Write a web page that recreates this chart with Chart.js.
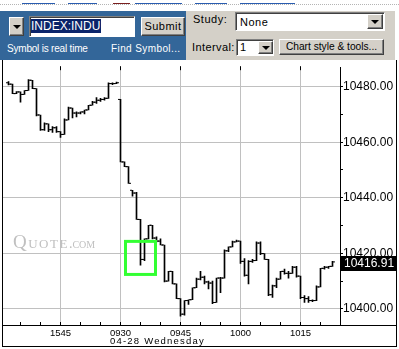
<!DOCTYPE html>
<html>
<head>
<meta charset="utf-8">
<script src="https://cdn.jsdelivr.net/npm/chart.js@4.4.1/dist/chart.umd.min.js"></script>
<style>
  body { margin: 0; width: 399px; height: 349px; overflow: hidden; background: #fff; position: relative;
         font-family: "Liberation Sans", Arial, sans-serif; }
  .a { position: absolute; white-space: nowrap; box-sizing: border-box; }
  .btn { background: #d4d0c8; border: 1px solid; border-color: #fff #404040 #404040 #fff;
         box-shadow: inset -1px -1px #808080; }
  .fld { background: #fff; border: 1px solid; border-color: #808080 #fff #fff #808080;
         box-shadow: inset 1px 1px #404040; }
  .tri { position: absolute; left: 50%; top: 50%; margin: -2px 0 0 -4px; width: 0; height: 0;
         border-left: 4px solid transparent; border-right: 4px solid transparent; border-top: 4px solid #000; }
  .link { position: absolute; top: 3px; height: 1px; background: #2a5db0; }
</style>
</head>
<body>
<!-- cut-off link row -->
<div class="a" style="left:0;top:4px;width:399px;border-top:1px dotted #b4b4b4"></div>
<div class="link" style="left:22px;width:33px"></div>
<div class="link" style="left:68px;width:29px"></div>
<div class="link" style="left:113px;width:17px;background:#7a2020"></div>
<div class="link" style="left:135px;width:47px"></div>
<div class="link" style="left:195px;width:32px"></div>
<div class="link" style="left:240px;width:55px"></div>

<!-- symbol panel -->
<div class="a" style="left:0;top:11px;width:186px;height:49px;background:#336699"></div>
<div class="a btn" style="left:9px;top:17px;width:15px;height:19px"><div class="tri"></div></div>
<div class="a fld" style="left:29px;top:16px;width:106px;height:21px"></div>
<div class="a" style="left:31px;top:19px;width:70px;height:14px;background:#0a246a;color:#fff;font-size:12px;line-height:14px">INDEX:INDU</div>
<div class="a btn" style="left:141px;top:17px;width:44px;height:19px;font-size:11px;line-height:16px;text-align:center;letter-spacing:0.5px">Submit</div>
<div class="a" style="left:7px;top:43px;color:#fff;font-size:10px;line-height:12px;letter-spacing:-0.2px">Symbol is real time</div>
<div class="a" style="left:111px;top:43px;color:#fff;font-size:10px;line-height:12px;letter-spacing:0.4px">Find Symbol...</div>

<!-- study panel -->
<div class="a" style="left:186px;top:11px;width:209px;height:49px;background:#d4d0c8"></div>
<div class="a" style="left:193px;top:13px;font-size:11px;line-height:13px;letter-spacing:0.5px">Study:</div>
<div class="a fld" style="left:235px;top:12px;width:150px;height:19px"></div>
<div class="a" style="left:240px;top:16px;font-size:11px;line-height:13px;letter-spacing:0.5px">None</div>
<div class="a btn" style="left:367px;top:14px;width:16px;height:15px"><div class="tri"></div></div>
<div class="a" style="left:192px;top:41px;font-size:11px;line-height:13px;letter-spacing:0.4px">Interval:</div>
<div class="a fld" style="left:236px;top:39px;width:38px;height:17px"></div>
<div class="a" style="left:240px;top:41px;font-size:11px;line-height:13px">1</div>
<div class="a btn" style="left:258px;top:41px;width:15px;height:13px"><div class="tri"></div></div>
<div class="a btn" style="left:279px;top:39px;width:105px;height:16px;font-size:10.2px;line-height:13px;text-align:center">Chart style &amp; tools...</div>

<canvas id="chart" width="399" height="289" style="position:absolute;left:0;top:60px"></canvas>

<div class="a" style="left:13px;top:231px;color:#c0c0c0;font-family:'Liberation Serif',serif;font-variant:small-caps;pointer-events:none">
  <span style="font-size:19px;letter-spacing:1.5px">Quote</span><span style="font-size:14px">.com</span>
</div>
<div class="a" id="date" style="left:110px;top:335px;font-size:9.5px;line-height:12px;letter-spacing:1.2px">04-28 Wednesday</div>

<script>
/* one-minute OHLC bars, INDEX:INDU, 15:32 (prev day) to 10:23 */

const firstSlot = 2; // 15:32 on the previous day; one slot per minute, 09:30 is slot 30

const opens = [
  10481.4, 10480.9, 10477.5, 10478.1, 10477.2, 10478.6, 10482.3, 10479.3, 10469.8, 10464.5,
  10466.6, 10464.5, 10465.2, 10463.8, 10462.8, 10468.0, 10472.3, 10470.5, 10470.5, 10470.9,
  10471.6, 10473.3, 10474.4, 10475.1, 10475.4, 10475.8, 10481.1, 10481.1,
  10475.4, 10452.9, 10451.2, 10442.7, 10441.7, 10432.2, 10417.8, 10425.2, 10430.1, 10425.5,
  10424.4, 10423.0, 10410.0, 10413.5, 10409.0, 10403.7, 10398.1, 10403.0, 10403.3, 10407.6,
  10410.7, 10411.4, 10409.7, 10409.3, 10402.3, 10411.1, 10411.1, 10420.9, 10422.3, 10424.1,
  10424.4, 10417.1, 10412.1, 10417.1, 10417.4, 10423.7, 10419.9, 10417.8, 10405.1, 10408.3,
  10410.7, 10413.5, 10412.8, 10412.8, 10415.0, 10411.8, 10404.1, 10403.7, 10403.0, 10403.0,
  10407.9, 10414.6, 10415.0, 10415.3,
];
const highs = [
  10481.8, 10480.9, 10478.2, 10478.1, 10478.6, 10482.5, 10482.3, 10479.3, 10469.8, 10467.0,
  10466.6, 10465.6, 10465.6, 10463.8, 10468.4, 10472.6, 10472.3, 10470.9, 10470.9, 10471.6,
  10473.3, 10474.7, 10476.1, 10475.8, 10476.1, 10481.4, 10481.4, 10481.6,
  10475.4, 10452.9, 10451.2, 10442.7, 10442.0, 10432.2, 10425.2, 10430.1, 10430.1, 10425.9,
  10425.2, 10423.0, 10413.5, 10413.5, 10409.0, 10403.7, 10403.0, 10403.3, 10407.6, 10411.1,
  10413.5, 10411.8, 10410.0, 10410.0, 10411.1, 10411.4, 10421.3, 10422.3, 10424.4, 10424.8,
  10424.4, 10418.1, 10417.4, 10417.8, 10424.1, 10424.1, 10419.9, 10417.8, 10408.6, 10411.1,
  10413.5, 10414.3, 10413.5, 10415.3, 10415.3, 10411.8, 10404.8, 10404.4, 10403.3, 10408.3,
  10414.6, 10415.3, 10415.3, 10417.1,
];
const lows = [
  10480.6, 10477.5, 10477.5, 10474.4, 10477.2, 10478.6, 10479.3, 10469.5, 10464.2, 10464.2,
  10463.8, 10463.5, 10463.5, 10461.7, 10462.8, 10468.0, 10468.7, 10469.1, 10470.2, 10470.2,
  10471.6, 10473.3, 10474.0, 10474.7, 10475.1, 10475.8, 10480.7, 10481.1,
  10452.9, 10451.2, 10445.2, 10440.6, 10432.2, 10415.7, 10417.4, 10425.2, 10425.2, 10424.1,
  10423.0, 10409.7, 10410.0, 10409.0, 10403.7, 10397.4, 10397.7, 10401.6, 10403.3, 10407.6,
  10410.4, 10409.0, 10407.2, 10401.9, 10402.3, 10405.8, 10411.1, 10420.6, 10422.3, 10424.1,
  10416.4, 10411.8, 10409.0, 10416.7, 10417.4, 10419.5, 10417.8, 10404.8, 10404.1, 10407.6,
  10410.7, 10412.5, 10411.1, 10412.8, 10411.4, 10403.7, 10402.3, 10402.3, 10402.6, 10403.0,
  10407.9, 10414.3, 10414.6, 10415.3,
];
const closes = [
  10480.9, 10477.5, 10478.1, 10477.2, 10478.6, 10482.3, 10479.3, 10469.8, 10464.5, 10466.6,
  10464.5, 10465.2, 10463.8, 10462.8, 10468.0, 10472.3, 10470.5, 10470.5, 10470.9, 10471.6,
  10473.3, 10474.4, 10475.1, 10475.4, 10475.8, 10481.1, 10481.1, 10481.4,
  10452.9, 10451.2, 10445.2, 10441.7, 10432.2, 10417.8, 10425.2, 10430.1, 10425.5, 10424.4,
  10423.0, 10410.0, 10413.5, 10409.0, 10403.7, 10398.1, 10403.0, 10403.3, 10407.6, 10410.7,
  10411.4, 10409.7, 10409.3, 10402.3, 10411.1, 10411.1, 10420.9, 10422.3, 10424.1, 10424.4,
  10417.1, 10412.1, 10417.1, 10417.4, 10423.7, 10419.9, 10417.8, 10405.1, 10408.3, 10410.7,
  10413.5, 10412.8, 10412.8, 10415.0, 10411.8, 10404.1, 10403.7, 10403.0, 10403.0, 10407.9,
  10414.6, 10415.0, 10415.3, 10416.91,
];

const xTickSlots = [15, 30, 45, 60, 75];
const xTickLabels = ["1545", "0930", "0945", "1000", "1015"];
const boxSlots = [31.25, 38.75];       // green highlight, in minute slots
const boxValues = [10412.4, 10424.3];  // green highlight, in index points

Chart.defaults.color = "#000";
Chart.defaults.font.family = '"Liberation Sans", Arial, sans-serif';

const slotOf = (i) => firstSlot + i;
const TICK = 0.375; // open/close tick offset, in slots

const extras = {
  id: "extras",
  afterDatasetsDraw(chart) {
    const { ctx, scales: { x, y } } = chart;
    const x0 = x.getPixelForValue(boxSlots[0]), x1 = x.getPixelForValue(boxSlots[1]);
    const y0 = y.getPixelForValue(boxValues[1]), y1 = y.getPixelForValue(boxValues[0]);
    ctx.save();
    ctx.strokeStyle = "#33ff33";
    ctx.lineWidth = 3;
    ctx.strokeRect(x0, y0, x1 - x0, y1 - y0);
    ctx.restore();
  },
  afterDraw(chart) {
    const { ctx, chartArea: a, scales: { x, y }, width, height } = chart;
    ctx.save();
    ctx.strokeStyle = "#000";
    ctx.lineWidth = 1;
    ctx.beginPath();
    // outer frame + time-axis box
    ctx.moveTo(2.5, 0); ctx.lineTo(2.5, height - 2);
    ctx.moveTo(width - 2.5, 0); ctx.lineTo(width - 2.5, height - 2);
    ctx.moveTo(2, height - 2.5); ctx.lineTo(width - 2, height - 2.5);
    ctx.moveTo(a.right, a.bottom + 0.5); ctx.lineTo(width - 2, a.bottom + 0.5);
    // marks at the top on the quarter-hour lines, and inward minor marks at the bottom
    for (const t of x.ticks) {
      const px = Math.round(x.getPixelForValue(t.value) - 0.5) + 0.5;
      if (xTickSlots.includes(t.value)) { ctx.moveTo(px, a.top - 1); ctx.lineTo(px, a.top + 3); }
      ctx.moveTo(px, a.bottom - 3); ctx.lineTo(px, a.bottom);
    }
    ctx.stroke();

    // last price box
    const last = closes[closes.length - 1];
    const py = Math.round(y.getPixelForValue(last));
    ctx.fillStyle = "#000";
    ctx.fillRect(a.right + 1, py - 6, 55, 15);
    ctx.fillStyle = "#fff";
    ctx.font = '12px "Liberation Sans", Arial, sans-serif';
    ctx.textBaseline = "middle";
    ctx.fillText(last.toFixed(2), a.right + 4, py + 1.5);
    ctx.restore();
  },
};

new Chart(document.getElementById("chart"), {
  type: "scatter",
  data: {
    datasets: [
      {
        type: "bar",
        data: highs.map((h, i) => ({ x: slotOf(i), y: [lows[i], h] })),
        backgroundColor: "#000",
        borderWidth: 0,
        barThickness: 1,
        minBarLength: 1,
      },
      {
        data: opens.map((o, i) => ({ x: slotOf(i) - TICK, y: o })),
        pointStyle: "line", pointRadius: 1, pointHoverRadius: 1, borderWidth: 1, borderColor: "#000",
      },
      {
        data: closes.map((c, i) => ({ x: slotOf(i) + TICK, y: c })),
        pointStyle: "line", pointRadius: 1, pointHoverRadius: 1, borderWidth: 1, borderColor: "#000",
      },
    ],
  },
  options: {
    responsive: false, animation: false, events: [],
    layout: { padding: { left: 2, right: 2, top: 1, bottom: 2 } },
    plugins: { legend: { display: false }, tooltip: { enabled: false } },
    scales: {
      x: {
        type: "linear", min: 0.375, max: 84.875, offset: false,
        afterFit: (s) => { s.height = 22; },
        ticks: {
          stepSize: 5, includeBounds: false, autoSkip: false, maxRotation: 0, padding: 3,
          font: { size: 9.5 },
          callback: (v) => { const k = xTickSlots.indexOf(v); return k >= 0 ? xTickLabels[k] : ""; },
        },
        grid: {
          offset: false, drawTicks: false,
          color: (c) => (c.tick && xTickSlots.includes(c.tick.value) ? "#c0c0c0" : "rgba(0,0,0,0)"),
        },
        border: { color: "#000" },
      },
      y: {
        position: "right", min: 10394.2, max: 10487.0, beginAtZero: false,
        afterFit: (s) => { s.width = 57; },
        ticks: {
          stepSize: 10, includeBounds: false, padding: 0, font: { size: 12 },
          callback: (v) => (v % 20 === 0 ? v.toFixed(2) : ""),
        },
        grid: {
          tickLength: 3, tickColor: "#000",
          color: (c) => (c.tick && c.tick.value % 20 === 0 ? "#c0c0c0" : "rgba(0,0,0,0)"),
        },
        border: { color: "#000" },
      },
    },
  },
  plugins: [extras],
});
</script>
</body>
</html>
